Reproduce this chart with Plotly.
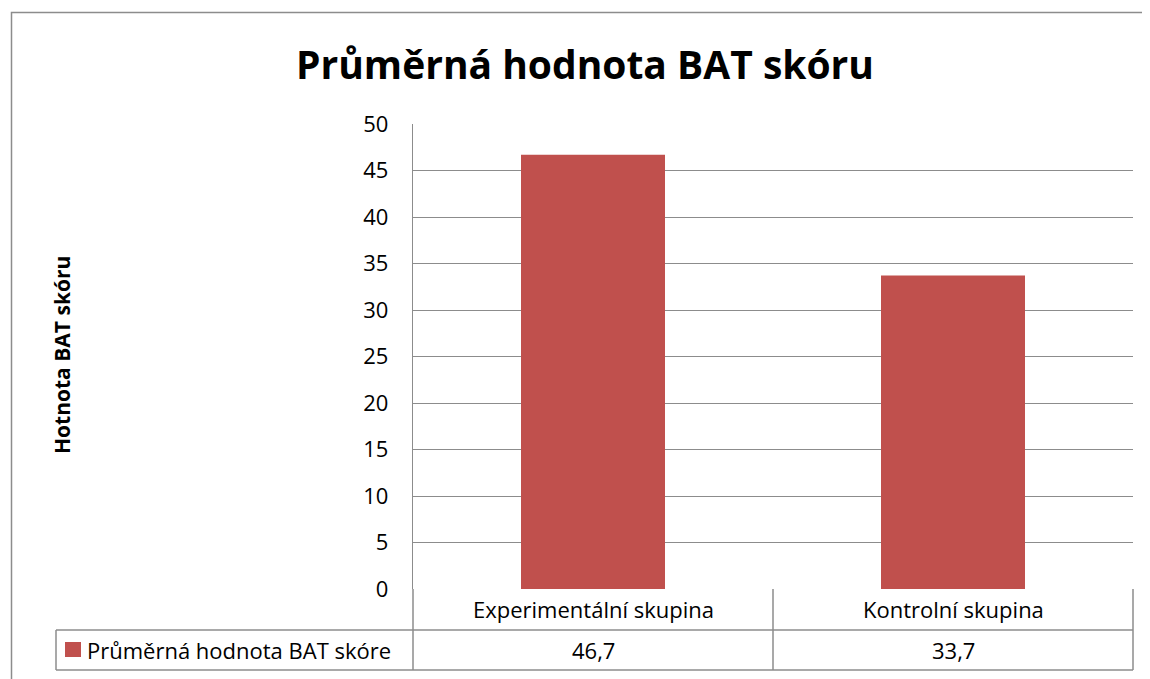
import plotly.graph_objects as go

categories = ["Experimentální skupina", "Kontrolní skupina"]
values = [46.7, 33.7]
value_labels = ["46,7", "33,7"]
series_name = "Průměrná hodnota BAT skóre"
title_text = "Průměrná hodnota BAT skóru"
y_title = "Hotnota BAT skóru"
y_ticks = list(range(0, 55, 5))

OFF = 8  # browser body margin
W, H = 1150 - OFF, 679 - OFF
L, R, T, B = 413, 1133, 124, 589   # page coordinates of plot area
BAR = "#C0504D"
GRID = "#8c8c8c"
FONT = "Open Sans"

def px(x):
    return (x - L) / (R - L)

def py(y):
    return (B - y) / (B - T)

fig = go.Figure()
fig.add_trace(go.Bar(x=categories, y=values, marker=dict(color=BAR, line=dict(width=0)),
                     name=series_name, showlegend=False, hoverinfo="skip"))

shapes = []
def line(x0, y0, x1, y1, w=1.5):
    shapes.append(dict(type="line", xref="paper", yref="paper",
                       x0=px(x0), y0=py(y0), x1=px(x1), y1=py(y1),
                       line=dict(color=GRID, width=w), layer="above"))

# outer chart border
shapes.append(dict(type="rect", xref="paper", yref="paper",
                   x0=px(11.5), y0=py(12.5), x1=px(1200), y1=py(720),
                   line=dict(color=GRID, width=1.5), fillcolor="rgba(0,0,0,0)", layer="below"))
# data table lines
line(L, 630, R, 630)
line(56, 670, R, 670)
line(56, 630, L, 630)
line(56, 630, 56, 670)
line(L, B, L, 670)
line((L + R) / 2, B, (L + R) / 2, 670)
line(R, B, R, 670)
# legend key
shapes.append(dict(type="rect", xref="paper", yref="paper",
                   x0=px(65), y0=py(642), x1=px(81), y1=py(657),
                   line=dict(width=0), fillcolor=BAR))

TF = dict(family=FONT, size=22, color="#000")
annotations = []
for c, v in zip(categories, value_labels):
    annotations.append(dict(x=c, xref="x", y=py(609), yref="paper", text=c, showarrow=False,
                            font=TF, xanchor="center", yanchor="middle"))
    annotations.append(dict(x=c, xref="x", y=py(650), yref="paper", text=v, showarrow=False,
                            font=TF, xanchor="center", yanchor="middle"))
annotations.append(dict(x=px(85), xref="paper", y=py(650), yref="paper", text=series_name, showarrow=False,
                        font=TF, xanchor="left", yanchor="middle"))
annotations.append(dict(x=px(62), xref="paper", y=py(355), yref="paper", text="<b>" + y_title + "</b>",
                        showarrow=False, textangle=-90,
                        font=dict(family=FONT, size=21, color="#000"), xanchor="center", yanchor="middle"))
annotations.append(dict(x=px(585), xref="paper", y=py(64), yref="paper", text="<b>" + title_text + "</b>",
                        showarrow=False, font=dict(family=FONT, size=39, color="#000"),
                        xanchor="center", yanchor="middle"))

fig.update_layout(
    width=W, height=H,
    margin=dict(l=L - OFF, r=W - (R - OFF), t=T - OFF, b=H - (B - OFF), autoexpand=False),
    paper_bgcolor="white", plot_bgcolor="white",
    bargap=0.6,
    shapes=shapes, annotations=annotations,
    xaxis=dict(showticklabels=False, showgrid=False, zeroline=False, showline=False, ticks=""),
    yaxis=dict(range=[0, 50], tickvals=y_ticks, showgrid=True, gridcolor=GRID, gridwidth=1.3,
               zeroline=False, showline=True, linecolor=GRID, linewidth=1.3, ticks="",
               ticklabelstandoff=19,
               tickfont=dict(family=FONT, size=22, color="#000")),
)
fig.write_html("out.html")
